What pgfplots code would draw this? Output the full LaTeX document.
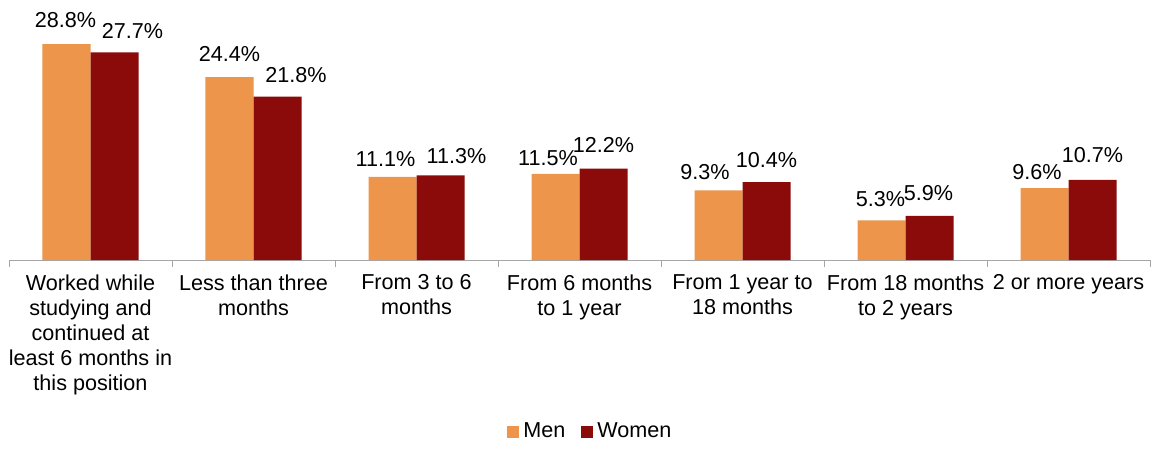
\documentclass[border=0pt]{standalone}
\usepackage{pgfplots}
\usepackage{pgfplotstable}
\pgfplotsset{compat=1.18}
\usepackage{fontspec}
\setmainfont{Liberation Sans}
\definecolor{men}{HTML}{ED954A}
\definecolor{women}{HTML}{8B0A0A}
\pgfplotstableread{
x y dx dy
0 28.8 -0.5 4.5
1 24.4 0 3.75
2 11.1 -3.5 1.25
3 11.5 -3.75 0.25
4 9.3 -6.75 1.25
5 5.3 -0.5 3
6 9.6 -3.75 0.25
}\men
\pgfplotstableread{
x y dx dy
0 27.7 9 3.25
1 21.8 9.25 3
2 11.3 8 2
3 12.2 0 4
4 10.4 0 3.5
5 5.9 -0.5 3.75
6 10.7 0 4.5
}\women
\begin{document}
\fontsize{10.8}{12.5}\selectfont
\begin{tikzpicture}
\begin{axis}[
  scale only axis,
  width=570.5pt, height=120pt,
  ymin=0, ymax=32,
  xmin=-0.5, xmax=6.5,
  axis x line*=bottom,
  axis y line=none,
  x axis line style={draw=gray!70,-},
  clip=false,
  ybar, bar width=24pt,
  xtick={0,...,6},
  xticklabels={{Worked while\\studying and\\continued at\\least 6 months in\\this position},{Less than three\\months},{From 3 to 6\\months},{From 6 months\\to 1 year},{From 1 year to\\18 months},{From 18 months\\to 2 years},{2 or more years}},
  major tick length=0pt,
  minor xtick={-0.5,0.5,...,6.5},
  minor tick length=3.5pt,
  tick align=outside,
  minor tick style={draw=gray!70},
  xticklabel style={align=center, font=\fontsize{10.8}{12.5}\selectfont, yshift=-3.5pt},
  /pgf/number format/assume math mode=true,
  visualization depends on={\thisrow{dx} \as \dx},
  visualization depends on={\thisrow{dy} \as \dy},
  nodes near coords={\pgfmathprintnumber[fixed,fixed zerofill,precision=1]{\pgfplotspointmeta}\%},
  every node near coord/.append style={font=\fontsize{10.8}{12}\selectfont, xshift=\dx pt, yshift=\dy pt},
  legend style={at={(0.5105,-0.716)}, anchor=center, legend columns=2, draw=none, font=\fontsize{10.8}{12}\selectfont, /tikz/every even column/.append style={column sep=6pt}},
  legend image code/.code={\fill[#1] (0pt,-3pt) rectangle (6pt,3pt);},
]
\addplot[fill=men, draw=none, bar shift=-12pt] table[x=x,y=y] {\men};
\addplot[fill=women, draw=none, bar shift=12pt] table[x=x,y=y] {\women};
\legend{Men,Women}
\path (rel axis cs:0,1) -- ++(-4.5pt,10pt);
\path (rel axis cs:1,0) -- ++(2pt,-90.5pt);
\end{axis}
\end{tikzpicture}
\end{document}
